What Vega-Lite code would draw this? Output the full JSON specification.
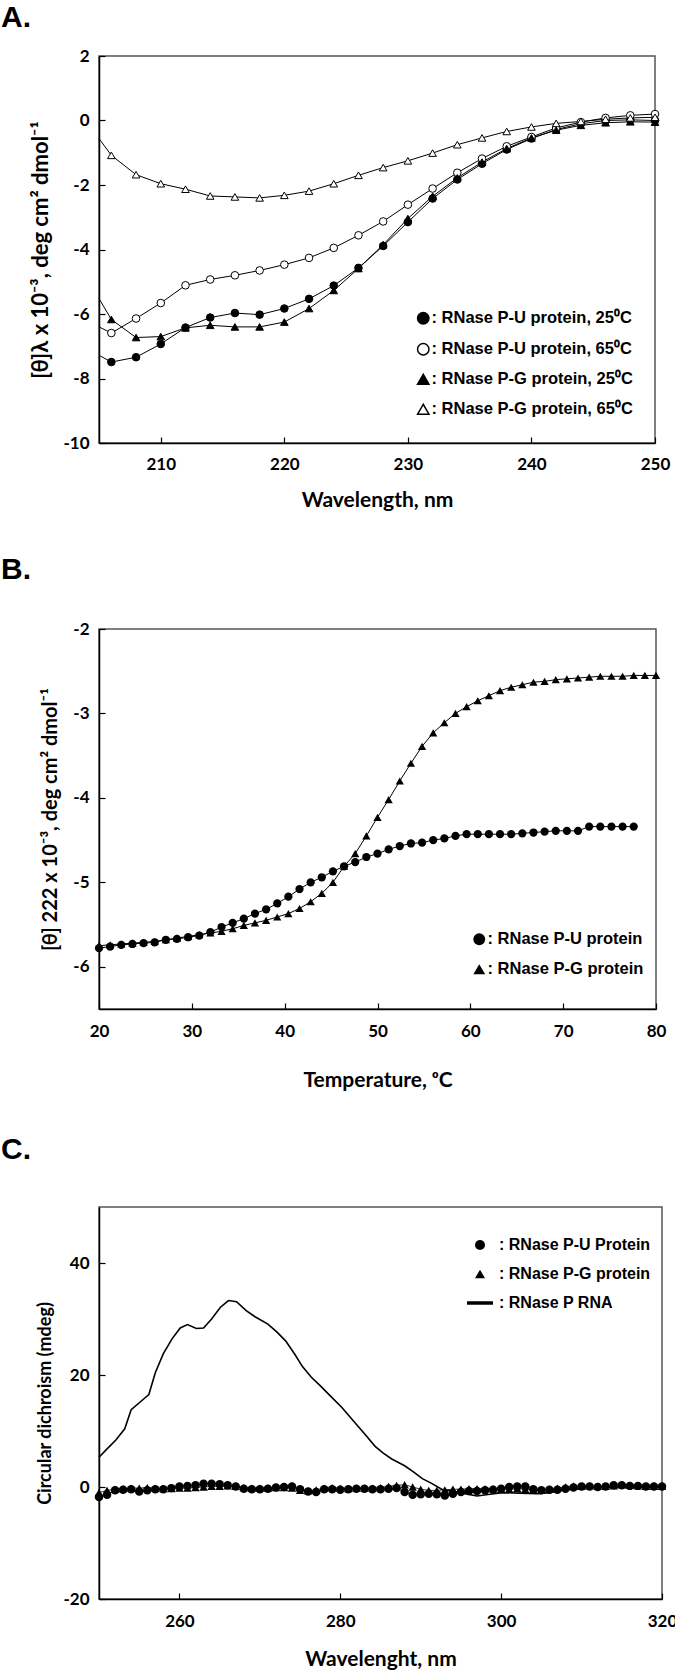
{
  "$schema": "https://vega.github.io/schema/vega-lite/v6.json",
  "background": "white",
  "padding": {"left": 0, "top": 2, "right": 0, "bottom": 0},
  "columns": 1,
  "align": "none",
  "spacing": 43,
  "resolve": {"scale": {"shape": "independent", "fill": "independent"}, "legend": {"shape": "independent", "fill": "independent"}},
  "config": {
    "font": "Lato",
    "view": {"stroke": "#555555", "strokeWidth": 1.5},
    "axis": {
      "domainColor": "black", "domainWidth": 1.5,
      "tickColor": "black", "tickWidth": 1.2, "tickSize": -6,
      "labelPadding": 20, "labelFont": "Lato", "labelFontSize": 17, "labelFontWeight": "bold", "labelColor": "black",
      "labelFlush": false, "labelExpr": "'' + datum.value",
      "titleFont": "Lato", "titleFontSize": 21, "titleFontWeight": "bold", "titleColor": "black",
      "grid": false
    },
    "axisY": {"labelPadding": 16},
    "legend": {"labelFont": "Liberation Sans", "labelFontSize": 16.5, "labelFontWeight": "bold", "labelColor": "black", "labelLimit": 320},
    "title": {"font": "Liberation Sans", "fontSize": 30, "fontWeight": "bold", "anchor": "start", "frame": "group", "color": "black"}
  },
  "datasets": {
    "a": [
      {"wl": 205, "u25": -7.28, "u65": -6.40, "g25": -5.52, "g65": -0.56},
      {"wl": 206, "u25": -7.49, "u65": -6.59, "g25": -6.17, "g65": -1.08},
      {"wl": 208, "u25": -7.34, "u65": -6.14, "g25": -6.73, "g65": -1.68},
      {"wl": 210, "u25": -6.93, "u65": -5.66, "g25": -6.70, "g65": -1.96},
      {"wl": 212, "u25": -6.42, "u65": -5.11, "g25": -6.43, "g65": -2.13},
      {"wl": 214, "u25": -6.11, "u65": -4.93, "g25": -6.35, "g65": -2.34},
      {"wl": 216, "u25": -5.97, "u65": -4.80, "g25": -6.40, "g65": -2.37},
      {"wl": 218, "u25": -6.02, "u65": -4.65, "g25": -6.40, "g65": -2.40},
      {"wl": 220, "u25": -5.83, "u65": -4.47, "g25": -6.25, "g65": -2.32},
      {"wl": 222, "u25": -5.53, "u65": -4.26, "g25": -5.83, "g65": -2.19},
      {"wl": 224, "u25": -5.12, "u65": -3.95, "g25": -5.27, "g65": -1.96},
      {"wl": 226, "u25": -4.57, "u65": -3.56, "g25": -4.59, "g65": -1.70},
      {"wl": 228, "u25": -3.89, "u65": -3.13, "g25": -3.85, "g65": -1.46},
      {"wl": 230, "u25": -3.15, "u65": -2.61, "g25": -3.04, "g65": -1.25},
      {"wl": 232, "u25": -2.42, "u65": -2.11, "g25": -2.35, "g65": -1.01},
      {"wl": 234, "u25": -1.83, "u65": -1.62, "g25": -1.78, "g65": -0.75},
      {"wl": 236, "u25": -1.34, "u65": -1.18, "g25": -1.29, "g65": -0.54},
      {"wl": 238, "u25": -0.90, "u65": -0.80, "g25": -0.87, "g65": -0.34},
      {"wl": 240, "u25": -0.56, "u65": -0.51, "g25": -0.54, "g65": -0.20},
      {"wl": 242, "u25": -0.28, "u65": -0.23, "g25": -0.30, "g65": -0.09},
      {"wl": 244, "u25": -0.10, "u65": -0.05, "g25": -0.15, "g65": -0.03},
      {"wl": 246, "u25": 0.00, "u65": 0.08, "g25": -0.07, "g65": 0.04},
      {"wl": 248, "u25": 0.02, "u65": 0.16, "g25": -0.04, "g65": 0.08},
      {"wl": 250, "u25": 0.00, "u65": 0.20, "g25": -0.05, "g65": 0.10}
    ],
    "b": [
      {"T": 20, "u": -5.78, "g": -5.75},
      {"T": 21.2, "u": -5.76, "g": -5.74},
      {"T": 22.4, "u": -5.74, "g": -5.73},
      {"T": 23.6, "u": -5.73, "g": -5.72},
      {"T": 24.8, "u": -5.72, "g": -5.71},
      {"T": 26, "u": -5.71, "g": -5.70},
      {"T": 27.2, "u": -5.68, "g": -5.68},
      {"T": 28.4, "u": -5.67, "g": -5.66},
      {"T": 29.6, "u": -5.65, "g": -5.64},
      {"T": 30.8, "u": -5.63, "g": -5.62},
      {"T": 32, "u": -5.59, "g": -5.60},
      {"T": 33.2, "u": -5.53, "g": -5.58},
      {"T": 34.4, "u": -5.48, "g": -5.55},
      {"T": 35.6, "u": -5.43, "g": -5.51},
      {"T": 36.8, "u": -5.37, "g": -5.48},
      {"T": 38, "u": -5.32, "g": -5.45},
      {"T": 39.2, "u": -5.25, "g": -5.41},
      {"T": 40.4, "u": -5.17, "g": -5.37},
      {"T": 41.6, "u": -5.08, "g": -5.31},
      {"T": 42.8, "u": -5.00, "g": -5.23},
      {"T": 44, "u": -4.94, "g": -5.13},
      {"T": 45.2, "u": -4.87, "g": -5.00},
      {"T": 46.4, "u": -4.81, "g": -4.81},
      {"T": 47.6, "u": -4.76, "g": -4.66},
      {"T": 48.8, "u": -4.70, "g": -4.45},
      {"T": 50, "u": -4.66, "g": -4.23},
      {"T": 51.2, "u": -4.61, "g": -4.02},
      {"T": 52.4, "u": -4.57, "g": -3.80},
      {"T": 53.6, "u": -4.54, "g": -3.59},
      {"T": 54.8, "u": -4.53, "g": -3.39},
      {"T": 56, "u": -4.50, "g": -3.23},
      {"T": 57.2, "u": -4.48, "g": -3.11},
      {"T": 58.4, "u": -4.45, "g": -3.00},
      {"T": 59.6, "u": -4.43, "g": -2.92},
      {"T": 60.8, "u": -4.43, "g": -2.85},
      {"T": 62, "u": -4.43, "g": -2.79},
      {"T": 63.2, "u": -4.43, "g": -2.73},
      {"T": 64.4, "u": -4.43, "g": -2.69},
      {"T": 65.6, "u": -4.42, "g": -2.66},
      {"T": 66.8, "u": -4.41, "g": -2.63},
      {"T": 68, "u": -4.40, "g": -2.62},
      {"T": 69.2, "u": -4.39, "g": -2.60},
      {"T": 70.4, "u": -4.39, "g": -2.59},
      {"T": 71.6, "u": -4.39, "g": -2.58},
      {"T": 72.8, "u": -4.34, "g": -2.57},
      {"T": 74, "u": -4.34, "g": -2.56},
      {"T": 75.2, "u": -4.34, "g": -2.56},
      {"T": 76.4, "u": -4.34, "g": -2.56},
      {"T": 77.6, "u": -4.34, "g": -2.55},
      {"T": 78.8, "u": null, "g": -2.55},
      {"T": 80, "u": -4.34, "g": -2.55}
    ],
    "c": [
      {"wl": 250, "u": -1.8, "g": -1.0}, {"wl": 251, "u": -1.4, "g": -0.6}, {"wl": 252, "u": -0.6, "g": -0.4},
      {"wl": 253, "u": -0.5, "g": -0.3}, {"wl": 254, "u": -0.4, "g": -0.2}, {"wl": 255, "u": -0.8, "g": -0.2},
      {"wl": 256, "u": -0.6, "g": -0.1}, {"wl": 257, "u": -0.4, "g": -0.2}, {"wl": 258, "u": -0.4, "g": -0.3},
      {"wl": 259, "u": -0.2, "g": -0.3}, {"wl": 260, "u": 0.1, "g": -0.2}, {"wl": 261, "u": 0.2, "g": -0.2},
      {"wl": 262, "u": 0.3, "g": -0.1}, {"wl": 263, "u": 0.6, "g": 0.0}, {"wl": 264, "u": 0.6, "g": 0.1},
      {"wl": 265, "u": 0.5, "g": 0.1}, {"wl": 266, "u": 0.3, "g": 0.2}, {"wl": 267, "u": 0.1, "g": 0.1},
      {"wl": 268, "u": -0.3, "g": -0.1}, {"wl": 269, "u": -0.4, "g": -0.2}, {"wl": 270, "u": -0.4, "g": -0.2},
      {"wl": 271, "u": -0.3, "g": -0.2}, {"wl": 272, "u": -0.1, "g": -0.1}, {"wl": 273, "u": 0.0, "g": -0.1},
      {"wl": 274, "u": 0.1, "g": -0.2}, {"wl": 275, "u": -0.4, "g": -0.6}, {"wl": 276, "u": -0.8, "g": -0.7},
      {"wl": 277, "u": -0.9, "g": -0.5}, {"wl": 278, "u": -0.4, "g": -0.2}, {"wl": 279, "u": -0.4, "g": -0.1},
      {"wl": 280, "u": -0.5, "g": -0.2}, {"wl": 281, "u": -0.4, "g": -0.3}, {"wl": 282, "u": -0.3, "g": -0.2},
      {"wl": 283, "u": -0.3, "g": -0.2}, {"wl": 284, "u": -0.4, "g": -0.2}, {"wl": 285, "u": -0.4, "g": -0.1},
      {"wl": 286, "u": -0.3, "g": 0.1}, {"wl": 287, "u": -0.2, "g": 0.3}, {"wl": 288, "u": -0.9, "g": 0.4},
      {"wl": 289, "u": -1.4, "g": 0.0}, {"wl": 290, "u": -1.3, "g": -0.4}, {"wl": 291, "u": -1.2, "g": -0.6},
      {"wl": 292, "u": -1.3, "g": -0.6}, {"wl": 293, "u": -1.5, "g": -0.5}, {"wl": 294, "u": -1.2, "g": -0.4},
      {"wl": 295, "u": -0.9, "g": -0.4}, {"wl": 296, "u": -0.7, "g": -0.3}, {"wl": 297, "u": -0.7, "g": -0.3},
      {"wl": 298, "u": -0.6, "g": -0.3}, {"wl": 299, "u": -0.5, "g": -0.3}, {"wl": 300, "u": -0.3, "g": -0.4},
      {"wl": 301, "u": 0.0, "g": -0.4}, {"wl": 302, "u": 0.1, "g": -0.3}, {"wl": 303, "u": 0.1, "g": -0.4},
      {"wl": 304, "u": -0.4, "g": -0.5}, {"wl": 305, "u": -0.6, "g": -0.5}, {"wl": 306, "u": -0.5, "g": -0.4},
      {"wl": 307, "u": -0.5, "g": -0.2}, {"wl": 308, "u": -0.3, "g": 0.0}, {"wl": 309, "u": -0.1, "g": 0.2},
      {"wl": 310, "u": 0.1, "g": 0.1}, {"wl": 311, "u": 0.1, "g": 0.2}, {"wl": 312, "u": 0.0, "g": 0.1},
      {"wl": 313, "u": 0.1, "g": 0.1}, {"wl": 314, "u": 0.3, "g": 0.2}, {"wl": 315, "u": 0.3, "g": 0.4},
      {"wl": 316, "u": 0.2, "g": 0.3}, {"wl": 317, "u": 0.2, "g": 0.2}, {"wl": 318, "u": 0.1, "g": 0.1},
      {"wl": 319, "u": 0.1, "g": 0.1}, {"wl": 320, "u": 0.1, "g": 0.1}
    ],
    "crna": [
      {"wl": 250.0, "v": 5.3}, {"wl": 251.0, "v": 6.8}, {"wl": 252.1, "v": 8.4}, {"wl": 253.2, "v": 10.4},
      {"wl": 254.0, "v": 13.8}, {"wl": 255.3, "v": 15.4}, {"wl": 256.2, "v": 16.5}, {"wl": 257.0, "v": 20.4},
      {"wl": 258.0, "v": 23.8}, {"wl": 259.1, "v": 26.5}, {"wl": 260.1, "v": 28.4}, {"wl": 261.0, "v": 29.0},
      {"wl": 262.1, "v": 28.3}, {"wl": 263.0, "v": 28.4}, {"wl": 264.0, "v": 30.0}, {"wl": 265.1, "v": 32.1},
      {"wl": 266.1, "v": 33.3}, {"wl": 267.1, "v": 33.1}, {"wl": 268.3, "v": 31.5}, {"wl": 269.4, "v": 30.4},
      {"wl": 271.0, "v": 29.1}, {"wl": 272.1, "v": 27.7}, {"wl": 273.2, "v": 26.1}, {"wl": 274.3, "v": 23.8},
      {"wl": 275.3, "v": 21.5}, {"wl": 276.4, "v": 19.6}, {"wl": 277.5, "v": 18.1}, {"wl": 278.6, "v": 16.5},
      {"wl": 280.2, "v": 14.2}, {"wl": 281.8, "v": 11.5}, {"wl": 283.2, "v": 9.2}, {"wl": 284.3, "v": 7.3},
      {"wl": 285.3, "v": 6.1}, {"wl": 286.4, "v": 5.0}, {"wl": 288.0, "v": 3.8}, {"wl": 289.1, "v": 2.7},
      {"wl": 290.2, "v": 1.5}, {"wl": 291.3, "v": 0.7}, {"wl": 292.6, "v": -0.4}, {"wl": 294.8, "v": -1.0},
      {"wl": 297.0, "v": -1.6}, {"wl": 298.6, "v": -1.3}, {"wl": 300.2, "v": -1.0}, {"wl": 302.3, "v": -1.1},
      {"wl": 304.5, "v": -1.2}, {"wl": 306.1, "v": -1.0}, {"wl": 307.7, "v": -0.5}, {"wl": 309.4, "v": -0.3},
      {"wl": 311.0, "v": -0.1}, {"wl": 313.1, "v": -0.1}, {"wl": 316.0, "v": 0.0}, {"wl": 320.0, "v": 0.0}
    ]
  },
  "concat": [
    {
      "width": 556, "height": 387,
      "title": {"text": "A.", "dx": -98, "offset": 14},
      "data": {"name": "a"},
      "transform": [{"fold": ["u25", "u65", "g25", "g65"], "as": ["s", "v"]}],
      "encoding": {
        "x": {"field": "wl", "type": "quantitative", "scale": {"domain": [205, 250], "nice": false, "zero": false},
              "axis": {"values": [210, 220, 230, 240, 250], "title": "Wavelength, nm", "titlePadding": 17, "labelPadding": 19}},
        "y": {"field": "v", "type": "quantitative", "scale": {"domain": [-10, 2], "nice": false, "zero": false},
              "axis": {"values": [-10, -8, -6, -4, -2, 0, 2], "title": "[θ]λ x 10⁻³, deg cm² dmol⁻¹", "titlePadding": 10.5, "titleFontSize": 22}}
      },
      "layer": [
        {"mark": {"type": "line", "color": "black", "strokeWidth": 1}, "encoding": {"detail": {"field": "s"}}},
        {
          "transform": [{"filter": "datum.wl >= 206"}],
          "mark": {"type": "point", "filled": true, "stroke": "black", "strokeWidth": 1, "size": 58, "opacity": 1},
          "encoding": {
            "shape": {"field": "s", "type": "nominal",
              "scale": {"domain": ["u25", "u65", "g25", "g65"], "range": ["circle", "circle", "triangle-up", "triangle-up"]},
              "legend": {"title": null, "orient": "none", "legendX": 316, "legendY": 254, "rowPadding": 13, "symbolSize": 130, "labelOffset": 0, "labelLimit": 320,
                "labelExpr": "datum.value == 'u25' ? ': RNase P-U protein, 25⁰C' : datum.value == 'u65' ? ': RNase P-U protein, 65⁰C' : datum.value == 'g25' ? ': RNase P-G protein, 25⁰C' : ': RNase P-G protein, 65⁰C'"}},
            "fill": {"field": "s", "type": "nominal",
              "scale": {"domain": ["u25", "u65", "g25", "g65"], "range": ["black", "white", "black", "white"]},
              "legend": {"title": null, "orient": "none", "legendX": 316, "legendY": 254, "rowPadding": 13, "symbolSize": 130, "labelOffset": 0, "labelLimit": 320,
                "labelExpr": "datum.value == 'u25' ? ': RNase P-U protein, 25⁰C' : datum.value == 'u65' ? ': RNase P-U protein, 65⁰C' : datum.value == 'g25' ? ': RNase P-G protein, 25⁰C' : ': RNase P-G protein, 65⁰C'"}}
          }
        }
      ]
    },
    {
      "width": 557, "height": 380,
      "title": {"text": "B.", "dx": -98, "offset": 35},
      "data": {"name": "b"},
      "transform": [{"fold": ["u", "g"], "as": ["s", "v"]}],
      "encoding": {
        "x": {"field": "T", "type": "quantitative", "scale": {"domain": [20, 80], "nice": false, "zero": false},
              "axis": {"values": [20, 30, 40, 50, 60, 70, 80], "title": "Temperature, ᵒC", "titlePadding": 30}},
        "y": {"field": "v", "type": "quantitative", "scale": {"domain": [-6.5, -2], "nice": false, "zero": false},
              "axis": {"values": [-6, -5, -4, -3, -2], "title": "[θ] 222 x 10⁻³, deg cm² dmol⁻¹", "titlePadding": 12.5, "titleFontSize": 20}}
      },
      "layer": [
        {"mark": {"type": "line", "color": "black", "strokeWidth": 1}, "encoding": {"detail": {"field": "s"}}},
        {
          "transform": [{"filter": "!(datum.s == 'u' && datum.T > 79)"}],
          "mark": {"type": "point", "filled": true, "color": "black", "size": 68, "opacity": 1},
          "encoding": {
            "shape": {"field": "s", "type": "nominal",
              "scale": {"domain": ["u", "g"], "range": ["circle", "triangle-up"]},
              "legend": {"title": null, "orient": "none", "legendX": 372, "legendY": 302, "rowPadding": 12, "symbolSize": 140, "labelOffset": 0, "labelLimit": 320,
                "labelExpr": "datum.value == 'u' ? ': RNase P-U protein' : ': RNase P-G protein'"}}
          }
        }
      ]
    },
    {
      "width": 563, "height": 392,
      "title": {"text": "C.", "dx": -98, "offset": 42},
      "encoding": {
        "x": {"field": "wl", "type": "quantitative", "scale": {"domain": [250, 320], "nice": false, "zero": false},
              "axis": {"values": [260, 280, 300, 320], "title": "Wavelenght, nm", "titlePadding": 19}},
        "y": {"field": "v", "type": "quantitative", "scale": {"domain": [-20, 50], "nice": false, "zero": false},
              "axis": {"values": [-20, 0, 20, 40], "title": "Circular dichroism (mdeg)", "titlePadding": 8, "titleFontSize": 18}}
      },
      "layer": [
        {
          "data": {"name": "c"},
          "transform": [{"fold": ["u", "g"], "as": ["s", "v"]}],
          "mark": {"type": "line", "color": "black", "strokeWidth": 0.8},
          "encoding": {"detail": {"field": "s"}}
        },
        {
          "data": {"name": "c"},
          "transform": [{"fold": ["u", "g"], "as": ["s", "v"]}],
          "mark": {"type": "point", "filled": true, "color": "black", "size": 72, "opacity": 1},
          "encoding": {
            "shape": {"field": "s", "type": "nominal",
              "scale": {"domain": ["u", "g", "rna"], "range": ["circle", "triangle-up", "M-2.6,-0.35H2.6V0.35H-2.6Z"]},
              "legend": {"title": null, "orient": "none", "legendX": 373, "legendY": 30, "rowPadding": 13, "symbolSize": 100, "labelOffset": 11, "labelLimit": 320, "labelFontSize": 16,
                "labelExpr": "datum.value == 'u' ? ': RNase P-U Protein' : datum.value == 'g' ? ': RNase P-G protein' : ': RNase P RNA'"}}
          }
        },
        {
          "data": {"name": "crna"},
          "mark": {"type": "line", "color": "black", "strokeWidth": 1.6},
          "encoding": {}
        }
      ]
    }
  ]
}
